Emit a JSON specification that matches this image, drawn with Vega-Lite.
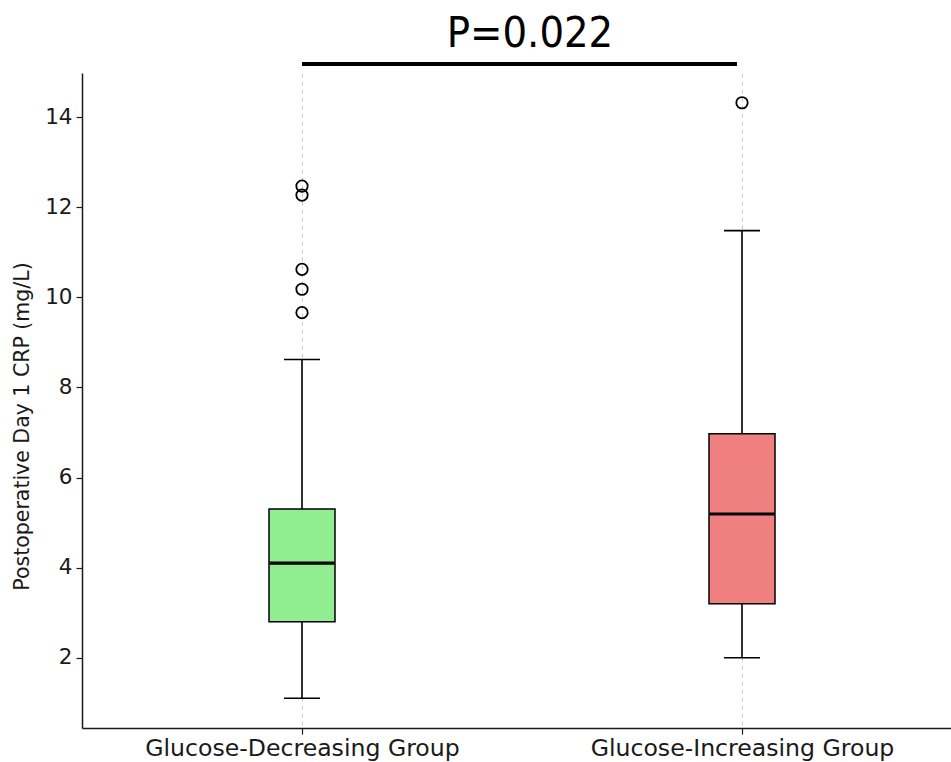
{
  "$schema": "https://vega.github.io/schema/vega-lite/v6.json",
  "width": 880,
  "height": 655,
  "autosize": {"type": "none"},
  "padding": {"left": 82, "top": 73, "right": 0, "bottom": 34},
  "background": "white",
  "config": {"view": {"stroke": null}, "font": "DejaVu Sans"},
  "datasets": {
    "boxes": [
      {"group": "Glucose-Decreasing Group", "lower": 1.1, "q1": 2.8, "median": 4.1, "q3": 5.3, "upper": 8.62},
      {"group": "Glucose-Increasing Group", "lower": 2.0, "q1": 3.2, "median": 5.19, "q3": 6.97, "upper": 11.48}
    ],
    "outliers": [
      {"group": "Glucose-Decreasing Group", "value": 9.66},
      {"group": "Glucose-Decreasing Group", "value": 10.18},
      {"group": "Glucose-Decreasing Group", "value": 10.62},
      {"group": "Glucose-Decreasing Group", "value": 12.27},
      {"group": "Glucose-Decreasing Group", "value": 12.47},
      {"group": "Glucose-Increasing Group", "value": 14.32}
    ],
    "pvalue": [
      {"from": "Glucose-Decreasing Group", "to": "Glucose-Increasing Group", "label": "P=0.022"}
    ]
  },
  "encoding": {
    "x": {
      "field": "group", "type": "nominal",
      "sort": ["Glucose-Decreasing Group", "Glucose-Increasing Group"],
      "scale": {"type": "point", "padding": 0.5},
      "axis": {
        "title": null, "labelFontSize": 23.6, "labelColor": "#1a1a1a", "labelAngle": 0, "labelLimit": 0,
        "domainColor": "#1a1a1a", "domainWidth": 1.5, "tickColor": "#1a1a1a", "tickSize": 6, "tickWidth": 1.2,
        "labelPadding": 2,
        "grid": true, "gridDash": [4, 4], "gridColor": "#c8c8c8", "gridWidth": 1
      }
    }
  },
  "layer": [
    {
      "data": {"name": "boxes"},
      "mark": {"type": "rule", "color": "black", "strokeWidth": 1.6},
      "encoding": {
        "y": {
          "field": "lower", "type": "quantitative",
          "scale": {"domain": [0.44, 14.98], "nice": false, "zero": false},
          "axis": {
            "values": [2, 4, 6, 8, 10, 12, 14], "grid": false,
            "title": "Postoperative Day 1 CRP (mg/L)", "titleFontSize": 20.5, "titleFontWeight": "normal",
            "titleColor": "#1a1a1a", "titlePadding": 12, "titleY": 353,
            "labelFontSize": 21.5, "labelColor": "#1a1a1a", "labelPadding": 4,
            "domainColor": "#1a1a1a", "domainWidth": 1.5, "tickColor": "#1a1a1a", "tickSize": 6, "tickWidth": 1.2
          }
        },
        "y2": {"field": "upper"}
      }
    },
    {
      "data": {"name": "boxes"},
      "mark": {"type": "bar", "size": 66, "stroke": "black", "strokeWidth": 1.5},
      "encoding": {
        "y": {"field": "q1", "type": "quantitative"},
        "y2": {"field": "q3"},
        "color": {
          "field": "group", "type": "nominal",
          "scale": {"domain": ["Glucose-Decreasing Group", "Glucose-Increasing Group"], "range": ["#90EE90", "#F08080"]},
          "legend": null
        }
      }
    },
    {
      "data": {"name": "boxes"},
      "mark": {"type": "tick", "color": "black", "size": 36, "thickness": 1.6, "opacity": 1},
      "encoding": {"y": {"field": "lower", "type": "quantitative"}}
    },
    {
      "data": {"name": "boxes"},
      "mark": {"type": "tick", "color": "black", "size": 36, "thickness": 1.6, "opacity": 1},
      "encoding": {"y": {"field": "upper", "type": "quantitative"}}
    },
    {
      "data": {"name": "boxes"},
      "mark": {"type": "tick", "color": "black", "size": 65, "thickness": 3.2, "opacity": 1},
      "encoding": {"y": {"field": "median", "type": "quantitative"}}
    },
    {
      "data": {"name": "outliers"},
      "mark": {"type": "point", "shape": "circle", "filled": false, "color": "black", "size": 130, "strokeWidth": 1.8, "opacity": 1},
      "encoding": {"y": {"field": "value", "type": "quantitative"}}
    },
    {
      "data": {"name": "pvalue"},
      "mark": {"type": "rule", "color": "black", "strokeWidth": 4, "x2Offset": -5},
      "encoding": {
        "x": {"field": "from", "type": "nominal"},
        "x2": {"field": "to"},
        "y": {"datum": 15.18, "type": "quantitative"}
      }
    },
    {
      "data": {"name": "pvalue"},
      "mark": {"type": "text", "color": "black", "font": "DejaVu Sans Condensed", "fontSize": 43, "baseline": "alphabetic", "align": "center", "dx": 228},
      "encoding": {
        "x": {"field": "from", "type": "nominal"},
        "y": {"datum": 15.55, "type": "quantitative"},
        "text": {"field": "label"}
      }
    }
  ]
}
